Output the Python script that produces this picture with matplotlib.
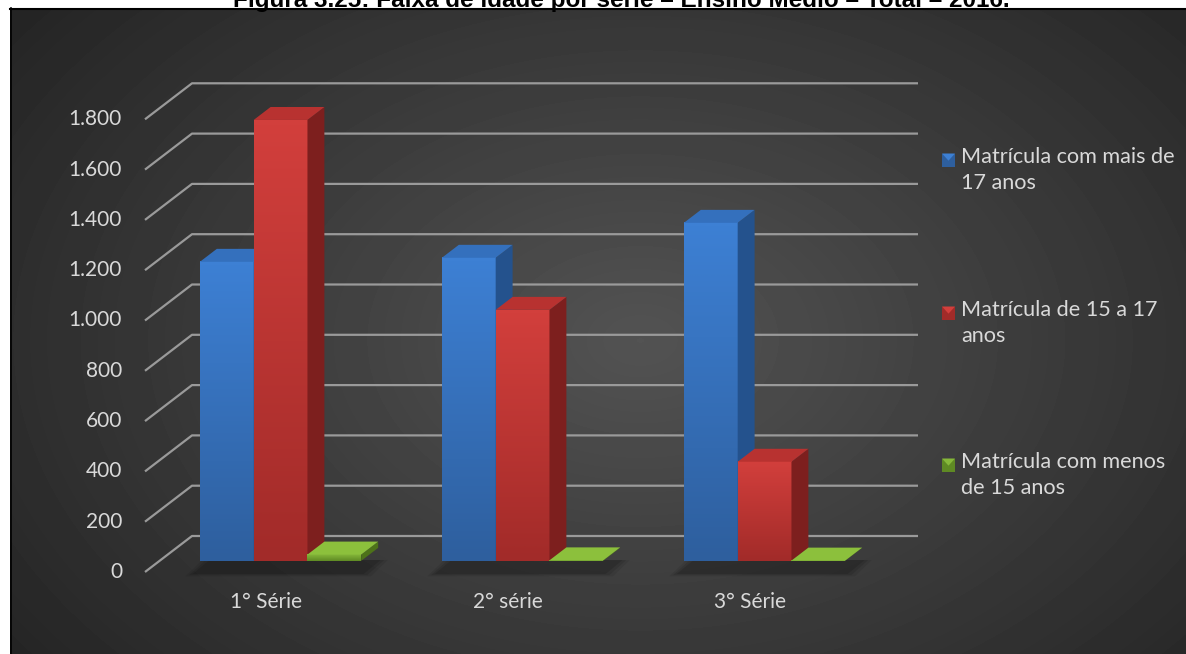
import numpy as np
import matplotlib
matplotlib.use("Agg")
import matplotlib.pyplot as plt
from matplotlib.patches import Polygon, Rectangle
from matplotlib.colors import LinearSegmentedColormap

# Matrículas do ensino médio por faixa de idade e série
categories = ["1° Série", "2° série", "3° Série"]
series_names = [
    "Matrícula com mais de\n17 anos",
    "Matrícula de 15 a 17\nanos",
    "Matrícula com menos\nde 15 anos",
]
mais_de_17 = [1189, 1205, 1344]
de_15_a_17 = [1753, 998, 394]
menos_de_15 = [25, 2, 1]
y_ticks = [0, 200, 400, 600, 800, 1000, 1200, 1400, 1600, 1800]
y_tick_labels = ["0", "200", "400", "600", "800", "1.000", "1.200", "1.400", "1.600", "1.800"]
title = "Figura 3.25: Faixa de idade por série – Ensino Médio – Total – 2016."

W, H = 1186, 654
FONT = "Lato"
TXT = "#d9d9d9"

# pixel geometry of the fake 3D box
PX_PER_VAL = 0.2515
PX_PER_CAT = 242.0
WALL_LEFT_PX = 145
FLOOR_PX = 572
BACK_DX = 47 / PX_PER_CAT          # depth shift in category units
BACK_DY = 36 / PX_PER_VAL          # depth shift in value units

fig = plt.figure(figsize=(W / 100, H / 100), dpi=100)

# background: white page with a dark radial-gradient panel
bg = fig.add_axes([0, 0, 1, 1])
bg.set_xlim(0, W)
bg.set_ylim(H, 0)
bg.axis("off")
yy, xx = np.mgrid[0:H, 0:W]
r = np.sqrt(((xx - 640) / 820.0) ** 2 + ((yy - 340) / 560.0) ** 2)
shade = np.clip(0.325 - 0.19 * r, 0.14, 0.33)
bg.imshow(shade, cmap="gray", vmin=0, vmax=1, extent=(0, W, H, 0), aspect="auto",
          interpolation="bilinear")
bg.add_patch(Rectangle((0, 0), W, 8, facecolor="white", edgecolor="none", zorder=2))
bg.add_patch(Rectangle((0, 0), 10, H, facecolor="white", edgecolor="none", zorder=2))
bg.plot([10, W], [8.5, 8.5], color="black", lw=1.5, zorder=3)
bg.plot([10.5, 10.5], [8, H], color="black", lw=1.2, zorder=3)
bg.text(621, 7, title, ha="center", va="baseline", fontsize=17.5, fontweight="bold",
        family="Liberation Sans", color="black", zorder=4, clip_on=False)

ax = fig.add_axes([0, 0, 1, 1])
ax.patch.set_alpha(0)
ax.axis("off")

x_left = (0 - WALL_LEFT_PX) / PX_PER_CAT - 0.5
x_right = (W - WALL_LEFT_PX) / PX_PER_CAT - 0.5
y_bottom = (FLOOR_PX - H) / PX_PER_VAL
y_top = FLOOR_PX / PX_PER_VAL

n_cat = len(categories)
grid_col = "#9a9a9a"

# wall gridlines and left edge diagonals
for v, lab in zip(y_ticks, y_tick_labels):
    ax.plot([-0.5, -0.5 + BACK_DX, n_cat - 0.5 + BACK_DX], [v, v + BACK_DY, v + BACK_DY],
            color=grid_col, lw=1.6, zorder=1, solid_capstyle="butt")
    ax.text(-0.5 - 23 / PX_PER_CAT, v, lab, ha="right", va="center", fontsize=15,
            family=FONT, color=TXT)

for i, c in enumerate(categories):
    ax.text(i, -119, c, ha="center", va="center", fontsize=15, family=FONT, color=TXT)

bar_w = 1 / 4.5
z_front, z_back = 0.31, 0.67
palette = [
    # front top, front bottom, side, top
    ("#3d80d4", "#2e5f9e", "#24528d", "#3470bd"),
    ("#d23f3c", "#a22b29", "#7d1f1e", "#b83230"),
    ("#86b83a", "#5f8a24", "#4d7219", "#8cc03c"),
]


def grad_cmap(top, bottom):
    return LinearSegmentedColormap.from_list("g", [bottom, top])


ddx = (z_back - z_front) * BACK_DX
ddy = (z_back - z_front) * BACK_DY
for i in range(n_cat):
    # soft floor shadow under each group
    sx0 = i - 1.5 * bar_w + z_front * BACK_DX - 0.03
    sx1 = i + 1.5 * bar_w + z_front * BACK_DX + 0.01
    for grow, alpha in [(0.03, 0.08), (0.015, 0.1), (0.0, 0.12)]:
        ax.add_patch(Polygon([(sx0 - grow, -8 - grow * 300),
                              (sx1 + grow, -8 - grow * 300),
                              (sx1 + ddx + grow, ddy - 4),
                              (sx0 + ddx - grow, ddy - 4)],
                             closed=True, facecolor="black", alpha=alpha,
                             edgecolor="none", zorder=2))
    for j, vals in enumerate([mais_de_17, de_15_a_17, menos_de_15]):
        v = vals[i]
        ftop, fbot, side, topc = palette[j]
        x0 = i - 1.5 * bar_w + j * bar_w + z_front * BACK_DX
        x1 = x0 + bar_w
        y0 = z_front * BACK_DY
        y1 = y0 + v
        zb = 3 + j
        # front face with vertical gradient
        grad = np.linspace(0, 1, 64).reshape(-1, 1)
        ax.imshow(grad, cmap=grad_cmap(ftop, fbot), extent=(x0, x1, y0, y1), origin="lower",
                  aspect="auto", zorder=zb, interpolation="bilinear")
        # right side face
        ax.add_patch(Polygon([(x1, y0), (x1 + ddx, y0 + ddy), (x1 + ddx, y1 + ddy), (x1, y1)],
                             closed=True, facecolor=side, edgecolor="none", zorder=zb))
        # top face
        ax.add_patch(Polygon([(x0, y1), (x1, y1), (x1 + ddx, y1 + ddy), (x0 + ddx, y1 + ddy)],
                             closed=True, facecolor=topc, edgecolor="none", zorder=zb))

ax.set_xlim(x_left, x_right)
ax.set_ylim(y_bottom, y_top)

# legend with bevelled square markers
leg_rows = [160, 313, 465]
for (name, pal, row) in zip(series_names, palette, leg_rows):
    x0, y0 = 942 / W, 1 - (row + 6.5) / H
    s = 13
    fig.patches.append(Rectangle((x0, y0), s / W, s / H, transform=fig.transFigure,
                                 facecolor=pal[1], edgecolor="none", zorder=5))
    fig.patches.append(Polygon([(x0, y0 + s / H), (x0 + s / W, y0 + s / H),
                                (x0 + 0.5 * s / W, y0 + 0.45 * s / H)],
                               closed=True, transform=fig.transFigure,
                               facecolor=pal[0], edgecolor="none", zorder=6))
    fig.text(961 / W, 1 - (row - 13) / H, name, ha="left", va="top", fontsize=15.6,
             family=FONT, color=TXT, linespacing=1.4)

fig.savefig("out.png", dpi=100)
